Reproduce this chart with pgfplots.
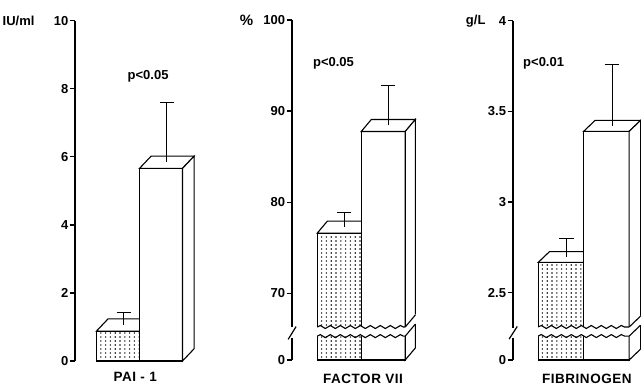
\documentclass[border=0pt]{standalone}
\usepackage{fontspec}
\setmainfont{Liberation Sans}
\usepackage{pgfplots}
\pgfplotsset{compat=1.18}
\usetikzlibrary{patterns,decorations.pathmorphing}
\pgfdeclarepatternformonly{pdots}{\pgfqpoint{-1pt}{-1pt}}{\pgfqpoint{1pt}{1pt}}{\pgfqpoint{4.8pt}{4pt}}{\pgfpathcircle{\pgfqpoint{0pt}{0pt}}{0.8pt}\pgfusepath{fill}}
\pgfplotsset{panel/.style={scale only axis, clip=false, axis x line=none, axis y line=left,
  y axis line style={draw=none}, ytick style={line width=1.3pt, black}, tick align=outside,
  major tick length=5pt, yticklabel style={font=\fontsize{13}{14}\selectfont\bfseries, inner sep=1.5pt},
  every axis plot/.append style={line width=1.1pt, black, mark=none}},
  eb/.style={black, solid, mark=none, line width=1.1pt}}
\tikzset{wavy/.style={line width=1.1pt, decorate, decoration={snake, amplitude=1.5pt, segment length=10pt}},
  lbl/.style={font=\fontsize{13}{14}\selectfont\bfseries},
  ttl/.style={font=\fontsize{13.5}{15}\selectfont\bfseries\addfontfeature{LetterSpace=4}}}
\begin{document}
\begin{tikzpicture}
\useasboundingbox (0,0) rectangle (641pt,389pt);
% ---------------- PAI-1 ----------------
\begin{axis}[panel, at={(75pt,28pt)}, anchor=south west, width=120.4pt, height=340.3pt,
  xmin=0, xmax=2.8, ymin=0, ymax=10, ytick={0,2,4,6,8,10}, yticklabels={0,2,4,6,8,10}]
\addplot[fill=white] coordinates {(0.5,0.88) (0.77,1.24) (1.77,1.24) (1.5,0.88)} -- cycle;
\addplot[preaction={fill=white}, pattern=pdots] coordinates {(0.5,0) (0.5,0.88) (1.5,0.88) (1.5,0)} -- cycle;
\addplot[fill=white] coordinates {(1.5,0) (1.5,5.66) (2.5,5.66) (2.5,0)} -- cycle;
\addplot[fill=white] coordinates {(1.5,5.66) (1.77,6.02) (2.77,6.02) (2.5,5.66)} -- cycle;
\addplot[fill=white] coordinates {(2.5,0) (2.77,0.36) (2.77,6.02) (2.5,5.66)} -- cycle;
\addplot[eb] coordinates {(1.135,1.06) (1.135,1.43)};
\addplot[eb] coordinates {(0.975,1.43) (1.295,1.43)};
\addplot[eb] coordinates {(2.135,5.84) (2.135,7.59)};
\addplot[eb] coordinates {(1.975,7.59) (2.295,7.59)};
\draw[line width=1.7pt] (rel axis cs:0,0) -- (rel axis cs:0,1);
\node[lbl, anchor=east] at (rel axis cs:0,1) [xshift=-37pt] {IU/ml};
\node[lbl] at (axis cs:1.70,8.38) {p<0.05};
\node[ttl] at (axis cs:1.4,0) [yshift=-16pt] {PAI - 1};
\end{axis}
% ---------------- FACTOR VII ----------------
\begin{axis}[panel, at={(291.7pt,29pt)}, anchor=south west, width=127.6pt, height=340pt,
  xmin=0, xmax=2.9, ymin=62.68, ymax=100, ytick={62.68,70,80,90,100}, yticklabels={0,70,80,90,100}]
\addplot[fill=white] coordinates {(0.58,76.6) (0.81,77.92) (1.81,77.92) (1.58,76.6)} -- cycle;
\addplot[preaction={fill=white}, pattern=pdots] coordinates {(0.58,62.68) (0.58,76.6) (1.58,76.6) (1.58,62.68)} -- cycle;
\addplot[fill=white] coordinates {(1.58,62.68) (1.58,87.76) (2.58,87.76) (2.58,62.68)} -- cycle;
\addplot[fill=white] coordinates {(1.58,87.76) (1.81,89.08) (2.81,89.08) (2.58,87.76)} -- cycle;
\addplot[fill=white] coordinates {(2.58,62.68) (2.81,64.0) (2.81,89.08) (2.58,87.76)} -- cycle;
\addplot[eb] coordinates {(1.195,77.26) (1.195,78.86)};
\addplot[eb] coordinates {(1.035,78.86) (1.355,78.86)};
\addplot[eb] coordinates {(2.195,88.42) (2.195,92.8)};
\addplot[eb] coordinates {(2.035,92.8) (2.355,92.8)};
\fill[white] (axis cs:0.55,65.3) -- (axis cs:2.58,65.3) -- (axis cs:2.84,66.8) -- (axis cs:2.84,67.8) -- (axis cs:2.58,66.3) -- (axis cs:0.55,66.3) -- cycle;
\draw[wavy] (axis cs:0.58,65.3) -- (axis cs:2.58,65.3);
\draw[line width=1.1pt] (axis cs:2.58,65.3) -- (axis cs:2.81,66.62);
\draw[wavy] (axis cs:0.58,66.3) -- (axis cs:2.58,66.3);
\draw[line width=1.1pt] (axis cs:2.58,66.3) -- (axis cs:2.81,67.62);
\draw[line width=1.7pt] (axis cs:0,62.68) -- (axis cs:0,65.05);
\draw[line width=1.7pt] (axis cs:0,66.25) -- (axis cs:0,100);
\draw[line width=1.2pt] (axis cs:-0.08,64.95) -- (axis cs:0.1,66.35);
\node[lbl, anchor=east, font=\fontsize{15}{16}\selectfont\bfseries] at (rel axis cs:0,1) [xshift=-35pt] {\%};
\node[lbl] at (axis cs:0.95,95.28) {p<0.05};
\node[ttl] at (axis cs:1.62,62.68) [yshift=-18.5pt] {FACTOR~VII};
\end{axis}
% ---------------- FIBRINOGEN ----------------
\begin{axis}[panel, at={(512.7pt,29pt)}, anchor=south west, width=127.4pt, height=339.3pt,
  xmin=0, xmax=2.8, ymin=2.129, ymax=4, ytick={2.129,2.5,3,3.5,4}, yticklabels={0,2.5,3,3.5,4}]
\addplot[fill=white] coordinates {(0.56,2.667) (0.81,2.727) (1.81,2.727) (1.56,2.667)} -- cycle;
\addplot[preaction={fill=white}, pattern=pdots] coordinates {(0.56,2.129) (0.56,2.667) (1.56,2.667) (1.56,2.129)} -- cycle;
\addplot[fill=white] coordinates {(1.56,2.129) (1.56,3.39) (2.56,3.39) (2.56,2.129)} -- cycle;
\addplot[fill=white] coordinates {(1.56,3.39) (1.81,3.45) (2.81,3.45) (2.56,3.39)} -- cycle;
\addplot[fill=white] coordinates {(2.56,2.129) (2.81,2.189) (2.81,3.45) (2.56,3.39)} -- cycle;
\addplot[eb] coordinates {(1.185,2.697) (1.185,2.80)};
\addplot[eb] coordinates {(1.025,2.80) (1.345,2.80)};
\addplot[eb] coordinates {(2.185,3.42) (2.185,3.757)};
\addplot[eb] coordinates {(2.025,3.757) (2.345,3.757)};
\fill[white] (axis cs:0.53,2.261) -- (axis cs:2.56,2.261) -- (axis cs:2.84,2.328) -- (axis cs:2.84,2.378) -- (axis cs:2.56,2.311) -- (axis cs:0.53,2.311) -- cycle;
\draw[wavy] (axis cs:0.56,2.261) -- (axis cs:2.56,2.261);
\draw[line width=1.1pt] (axis cs:2.56,2.261) -- (axis cs:2.81,2.321);
\draw[wavy] (axis cs:0.56,2.311) -- (axis cs:2.56,2.311);
\draw[line width=1.1pt] (axis cs:2.56,2.311) -- (axis cs:2.81,2.371);
\draw[line width=1.7pt] (axis cs:0,2.129) -- (axis cs:0,2.25);
\draw[line width=1.7pt] (axis cs:0,2.307) -- (axis cs:0,4);
\draw[line width=1.2pt] (axis cs:-0.08,2.244) -- (axis cs:0.1,2.314);
\node[lbl, anchor=east] at (rel axis cs:0,1) [xshift=-23.7pt] {g/L};
\node[lbl] at (axis cs:0.68,3.767) {p<0.01};
\node[ttl] at (axis cs:1.63,2.129) [yshift=-18.5pt] {FIBRINOGEN};
\end{axis}
\end{tikzpicture}
\end{document}
